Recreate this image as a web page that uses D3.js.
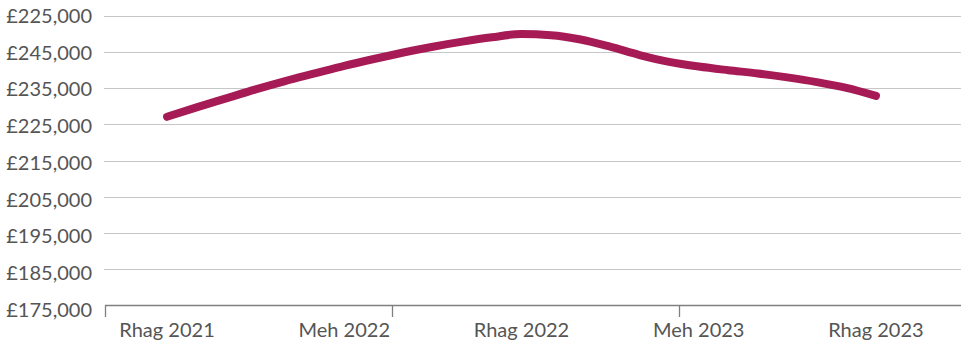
<!DOCTYPE html>
<html>
<head>
<meta charset="utf-8">
<script src="https://cdn.jsdelivr.net/npm/d3@7"></script>
<style>
  html, body { margin: 0; padding: 0; background: #fff; }
  #chart { width: 961px; height: 345px; }
  text { font-family: Lato, "Open Sans", sans-serif; fill: #555555; }
</style>
</head>
<body>
<div id="chart"></div>
<script>
// monthly values, Rhag 2021 (month 0) to Rhag 2023 (month 24)
const months = d3.range(0, 25);
const prices = [227100, 229700, 232200, 234700, 237000, 239100, 241200, 243100, 244900,
  246500, 247900, 249100, 250000, 249700, 248500, 246500, 244200, 242300, 241000,
  240000, 239100, 238000, 236700, 235100, 232900];

const xLabels = ['Rhag 2021', 'Meh 2022', 'Rhag 2022', 'Meh 2023', 'Rhag 2023'];
const xLabelMonths = [0, 6, 12, 18, 24];
const xTickMonths = [-2.1, 7.62, 17.33];

const yTicks = [175000, 185000, 195000, 205000, 215000, 225000, 235000, 245000, 255000];
const yTickLabels = ['£175,000', '£185,000', '£195,000', '£205,000', '£215,000',
  '£225,000', '£235,000', '£245,000', '£225,000'];

const data = months.map((m, i) => ({ m: m, v: prices[i] }));

var svg = d3.select('#chart').append('svg')
  .attr('width', 961)
  .attr('height', 345);

var margin = {top: 16, right: 0, bottom: 40, left: 105};
var width = 961 - margin.left - margin.right;
var height = 305 - margin.top;

const xScale = d3.scaleLinear()
  .domain([-2.1, 26.88])
  .range([0, width]);

const yScale = d3.scaleLinear()
  .domain([175000, 255000])
  .range([height, 0]);

const g = svg.append('g')
  .attr('transform', `translate(${margin.left}, ${margin.top})`);

// gridlines
g.selectAll('.grid')
  .data(yTicks.slice(1))
  .join('line')
    .attr('class', 'grid')
    .attr('x1', -1)
    .attr('x2', width)
    .attr('y1', d => Math.round(yScale(d)) + 0.5)
    .attr('y2', d => Math.round(yScale(d)) + 0.5)
    .attr('stroke', '#c6c6c6')
    .attr('stroke-width', 1.2);

// y labels (sit a little lower towards the bottom, as in the original)
g.selectAll('.ylab')
  .data(yTicks)
  .join('text')
    .attr('class', 'ylab')
    .attr('x', -13)
    .attr('y', (d, i) => yScale(d) + (8 - i) * 0.6)
    .attr('dy', '0.35em')
    .attr('text-anchor', 'end')
    .style('font-size', '20px')
    .text((d, i) => yTickLabels[i]);

// x axis line + ticks
g.append('line')
  .attr('x1', 0)
  .attr('x2', width)
  .attr('y1', height + 0.5)
  .attr('y2', height + 0.5)
  .attr('stroke', '#7f7f7f')
  .attr('stroke-width', 1.3);

g.selectAll('.xtick')
  .data(xTickMonths)
  .join('line')
    .attr('class', 'xtick')
    .attr('x1', d => Math.round(xScale(d)) + 0.5)
    .attr('x2', d => Math.round(xScale(d)) + 0.5)
    .attr('y1', height)
    .attr('y2', height + 12)
    .attr('stroke', '#7f7f7f')
    .attr('stroke-width', 1.3);

g.selectAll('.xlab')
  .data(xLabelMonths)
  .join('text')
    .attr('class', 'xlab')
    .attr('x', d => xScale(d))
    .attr('y', 337 - margin.top)
    .attr('text-anchor', 'middle')
    .style('font-size', '20px')
    .text((d, i) => xLabels[i]);

// the line
const line = d3.line()
  .x(d => xScale(d.m))
  .y(d => yScale(d.v))
  .curve(d3.curveMonotoneX);

g.append('path')
  .datum(data)
  .attr('d', line)
  .attr('fill', 'none')
  .attr('stroke', '#a61b56')
  .attr('stroke-width', 8)
  .attr('stroke-linecap', 'round')
  .attr('stroke-linejoin', 'round');
</script>
</body>
</html>
